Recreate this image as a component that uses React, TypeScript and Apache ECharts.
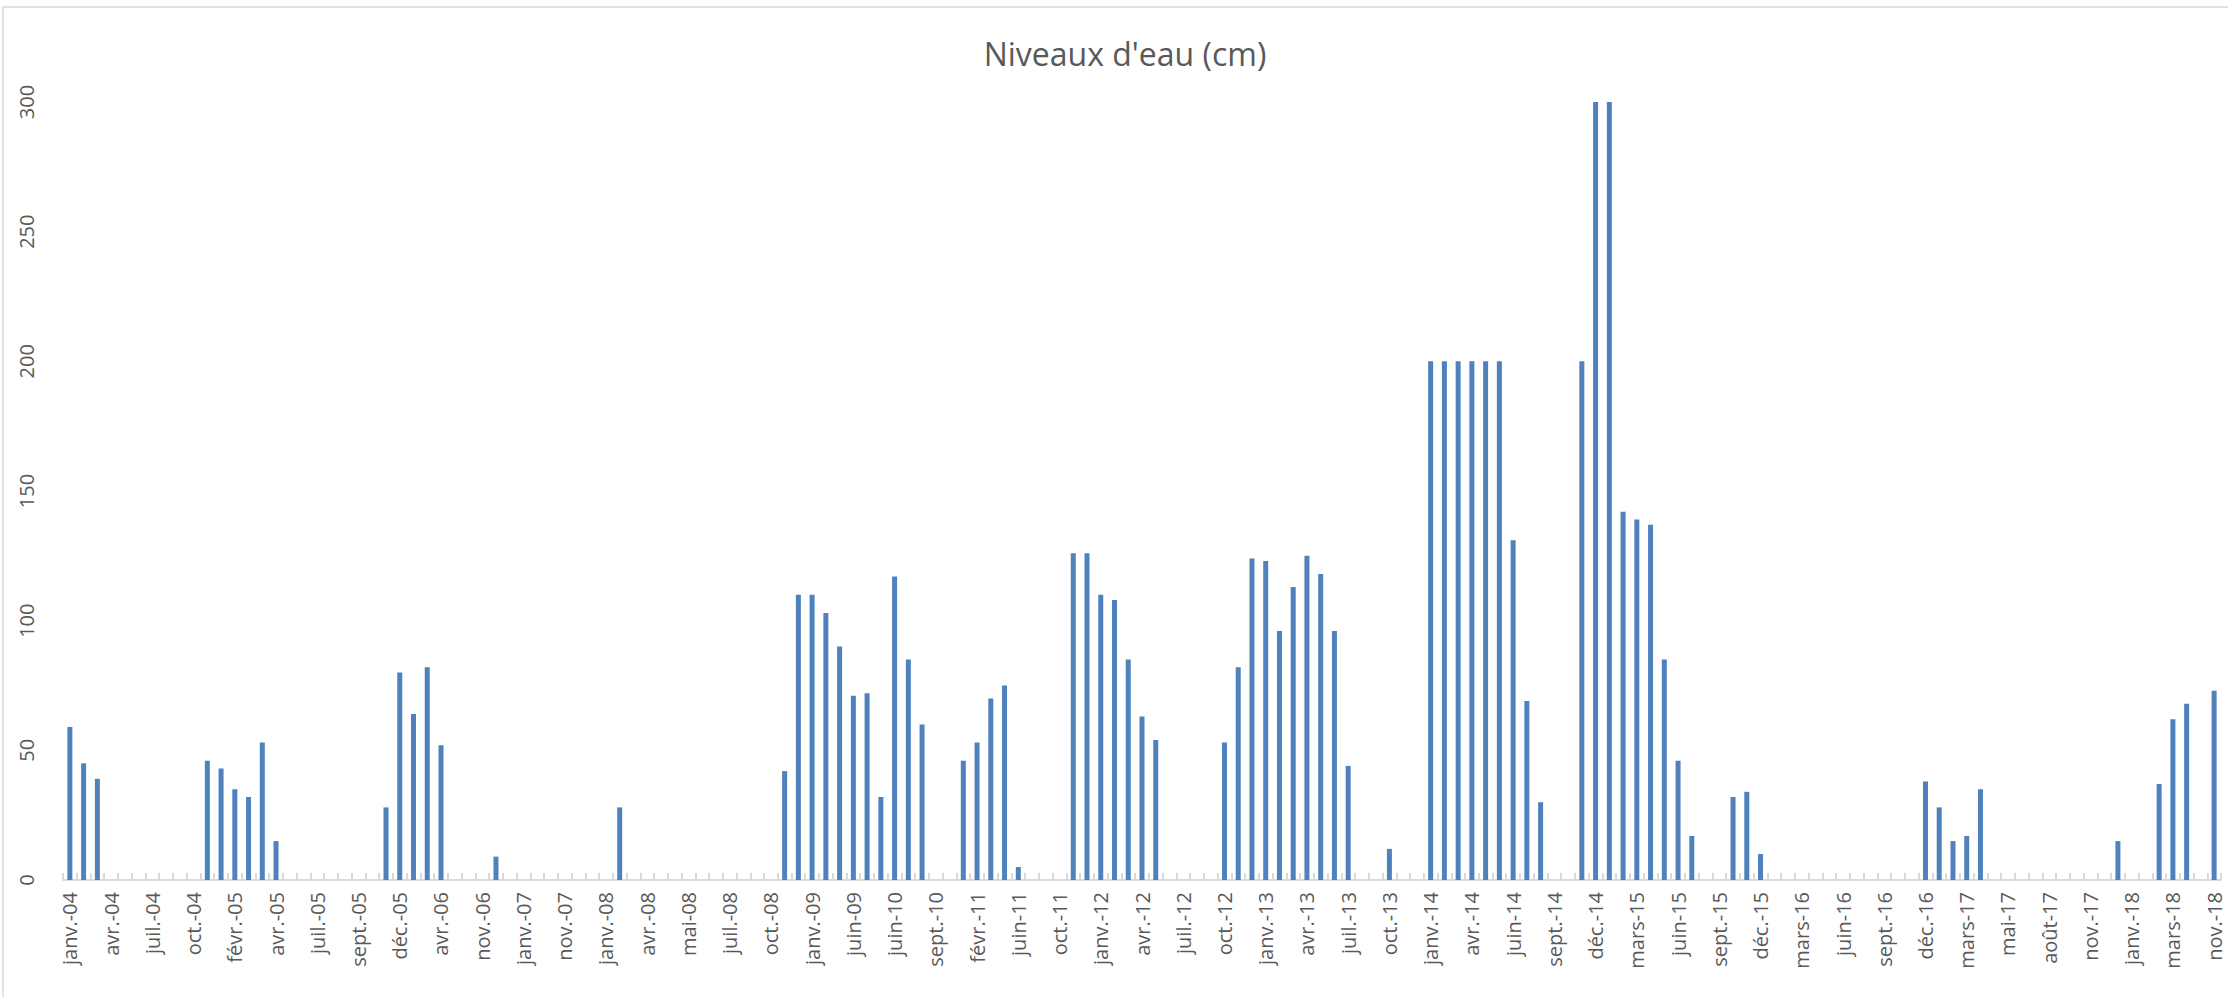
import React, { useEffect, useRef } from "react";
import * as echarts from "echarts";

const TITLE = "Niveaux d'eau (cm)";

const categories: string[] = [
  "janv.-04", "févr.-04", "mars-04", "avr.-04", "mai-04", "juin-04", "juil.-04", "août-04", "sept.-04", "oct.-04",
  "nov.-04", "déc.-04", "févr.-05", "mars-05", "mars-05", "avr.-05", "mai-05", "juin-05", "juil.-05", "août-05",
  "août-05", "sept.-05", "oct.-05", "nov.-05", "déc.-05", "janv.-06", "févr.-06", "avr.-06", "juin-06", "sept.-06",
  "nov.-06", "déc.-06", "déc.-06", "janv.-07", "avr.-07", "juil.-07", "nov.-07", "déc.-07", "déc.-07", "janv.-08",
  "févr.-08", "mars-08", "avr.-08", "avr.-08", "mai-08", "mai-08", "juin-08", "juin-08", "juil.-08", "août-08",
  "sept.-08", "oct.-08", "nov.-08", "déc.-08", "janv.-09", "févr.-09", "mars-09", "juin-09", "sept.-09", "déc.-09",
  "juin-10", "juil.-10", "août-10", "sept.-10", "nov.-10", "déc.-10", "févr.-11", "mars-11", "mai-11", "juin-11",
  "juil.-11", "sept.-11", "oct.-11", "nov.-11", "déc.-11", "janv.-12", "févr.-12", "mars-12", "avr.-12", "mai-12",
  "juin-12", "juil.-12", "août-12", "sept.-12", "oct.-12", "nov.-12", "déc.-12", "janv.-13", "févr.-13", "mars-13",
  "avr.-13", "mai-13", "juin-13", "juil.-13", "août-13", "sept.-13", "oct.-13", "nov.-13", "déc.-13", "janv.-14",
  "févr.-14", "mars-14", "avr.-14", "mai-14", "mai-14", "juin-14", "juil.-14", "août-14", "sept.-14", "oct.-14",
  "nov.-14", "déc.-14", "janv.-15", "févr.-15", "mars-15", "avr.-15", "mai-15", "juin-15", "juil.-15", "août-15",
  "sept.-15", "oct.-15", "nov.-15", "déc.-15", "janv.-16", "févr.-16", "mars-16", "avr.-16", "mai-16", "juin-16",
  "juil.-16", "août-16", "sept.-16", "oct.-16", "nov.-16", "déc.-16", "janv.-17", "févr.-17", "mars-17", "avr.-17",
  "avr.-17", "mai-17", "juin-17", "juil.-17", "août-17", "sept.-17", "oct.-17", "nov.-17", "déc.-17", "déc.-17",
  "janv.-18", "févr.-18", "févr.-18", "mars-18", "avr.-18", "juil.-18", "nov.-18",
];

const niveaux: number[] = [
  59, 45, 39, 0, 0, 0, 0, 0, 0, 0,
  46, 43, 35, 32, 53, 15, 0, 0, 0, 0,
  0, 0, 0, 28, 80, 64, 82, 52, 0, 0,
  0, 9, 0, 0, 0, 0, 0, 0, 0, 0,
  28, 0, 0, 0, 0, 0, 0, 0, 0, 0,
  0, 0, 42, 110, 110, 103, 90, 71, 72, 32,
  117, 85, 60, 0, 0, 46, 53, 70, 75, 5,
  0, 0, 0, 126, 126, 110, 108, 85, 63, 54,
  0, 0, 0, 0, 53, 82, 124, 123, 96, 113,
  125, 118, 96, 44, 0, 0, 12, 0, 0, 200,
  200, 200, 200, 200, 200, 131, 69, 30, 0, 0,
  200, 300, 300, 142, 139, 137, 85, 46, 17, 0,
  0, 32, 34, 10, 0, 0, 0, 0, 0, 0,
  0, 0, 0, 0, 0, 38, 28, 15, 17, 35,
  0, 0, 0, 0, 0, 0, 0, 0, 0, 15,
  0, 0, 37, 62, 68, 0, 73,
];

const yTicks = { min: 0, max: 300, interval: 50 };

const FONT = "'Open Sans', 'Noto Sans', sans-serif";
const GRAY_TEXT = "#595959";
const GRAY_LINE = "#d9d9d9";

export default function App() {
  const ref = useRef<HTMLDivElement>(null);

  useEffect(() => {
    if (!ref.current) return;
    const chart = echarts.init(ref.current, undefined, { renderer: "svg" });
    chart.setOption({
      animation: false,
      backgroundColor: "#ffffff",
      title: {
        text: TITLE,
        left: 1120,
        top: 32,
        textAlign: "center",
        textStyle: {
          fontFamily: FONT,
          fontSize: 32,
          fontWeight: "normal",
          color: GRAY_TEXT,
        },
      },
      graphic: [
        {
          type: "rect",
          shape: { x: 3, y: 7, width: 2240, height: 1010 },
          style: { fill: "none", stroke: GRAY_LINE, lineWidth: 1.5 },
          silent: true,
        },
      ],
      grid: { left: 63, right: 7, top: 102, bottom: 117, containLabel: false },
      xAxis: {
        type: "category",
        data: categories,
        boundaryGap: true,
        axisLine: { show: true, lineStyle: { color: GRAY_LINE, width: 2 } },
        axisTick: {
          show: true,
          inside: true,
          length: 7,
          interval: 0,
          lineStyle: { color: GRAY_LINE, width: 2 },
        },
        axisLabel: {
          interval: 2,
          rotate: 90,
          margin: 12,
          color: GRAY_TEXT,
          fontFamily: FONT,
          fontSize: 20,
          lineHeight: 22,
        },
        splitLine: { show: false },
      },
      yAxis: {
        type: "value",
        min: yTicks.min,
        max: yTicks.max,
        interval: yTicks.interval,
        axisLine: { show: false },
        axisTick: { show: false },
        splitLine: { show: false },
        axisLabel: {
          rotate: 90,
          margin: 27,
          color: GRAY_TEXT,
          fontFamily: FONT,
          fontSize: 20,
        },
      },
      series: [
        {
          type: "bar",
          name: TITLE,
          data: niveaux,
          barWidth: 5,
          itemStyle: { color: "#4f81bd" },
        },
      ],
    });
    return () => chart.dispose();
  }, []);

  return (
    <div
      ref={ref}
      style={{ position: "absolute", left: 0, top: 0, width: 2228, height: 997 }}
    />
  );
}
